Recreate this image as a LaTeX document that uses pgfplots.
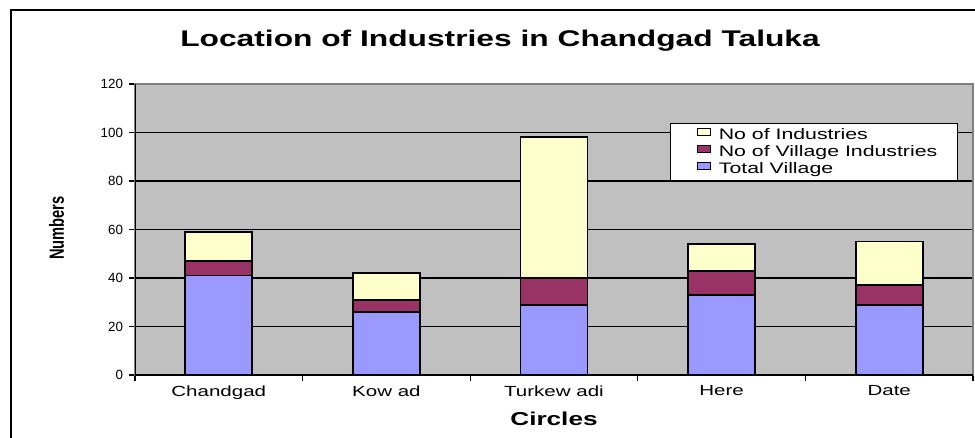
\documentclass[border=0pt]{standalone}
\usepackage{graphicx}
\usepackage{pgfplots}
\pgfplotsset{compat=1.18}
\usepackage{fontspec}
\setmainfont{Liberation Sans}
\newfontfamily\wide[FakeStretch=1.4]{Liberation Sans}
\definecolor{plotgray}{HTML}{C0C0C0}
\definecolor{tvblue}{HTML}{9999FF}
\definecolor{vired}{HTML}{993366}
\definecolor{inyellow}{HTML}{FFFFCC}
\begin{document}
\begin{tikzpicture}
\useasboundingbox (0,0) rectangle (731.25pt,327.75pt);
\draw[line width=1.5pt] (8.25pt,-2pt) -- (8.25pt,320.25pt) -- (734pt,320.25pt);
\node[font=\wide\bfseries\fontsize{17}{20}\selectfont] at (375pt,297pt) {Location of Industries in Chandgad Taluka};
\begin{axis}[
  at={(101.25pt,46.5pt)}, anchor=south west,
  scale only axis, width=628.5pt, height=218.25pt,
  ybar stacked, bar width=50.25pt,
  xmin=-0.5, xmax=4.5, ymin=0, ymax=120,
  xtick={0,...,4},
  xticklabels={Chandgad,Kow ad,Turkew adi,Here,Date},
  major x tick style={draw=none},
  minor xtick={-0.5,0.5,...,4.5},
  minor x tick style={black, line width=0.8pt},
  ytick={0,20,...,120},
  major y tick style={black, line width=0.8pt},
  tick align=outside, tick pos=left,
  major tick length=4.5pt, minor tick length=4.5pt,
  ymajorgrids, grid style={black, line width=0.9pt},
  axis background/.style={fill=plotgray},
  axis line style={draw=gray, line width=1pt},
  /pgf/number format/assume math mode=true,
  yticklabel style={font=\fontsize{10}{12}\selectfont, xshift=-1pt},
  xticklabel style={font=\wide\fontsize{11}{13}\selectfont},
  ylabel={\scalebox{1.4}[1]{\rotatebox{90}{\bfseries\fontsize{11}{13}\selectfont Numbers}}},
  ylabel style={at={(rel axis cs:-0.0935,0.505)}, anchor=center, rotate=-90},
  xlabel={Circles},
  xlabel style={font=\wide\bfseries\fontsize{14}{16}\selectfont, at={(rel axis cs:0.5,-0.151)}, anchor=center},
  reverse legend,
  legend style={at={(0.982,0.866)}, anchor=north east, draw=black, line width=0.9pt, fill=white,
    font=\wide\fontsize{11.4}{13}\selectfont, row sep=1.5pt, inner xsep=15pt, inner ysep=3pt,
    nodes={inner sep=0pt, text height=8pt, text depth=2.5pt}, column sep=6pt},
  legend cell align=left,
  legend image code/.code={\path (-4.5pt,0pt); \draw[#1, draw=black, line width=0.5pt] (0pt,0.4pt) rectangle (9.75pt,5.8pt);},
]
\addplot[fill=tvblue, draw=black, line width=1.3pt] coordinates {(0,41) (1,26) (2,29) (3,33) (4,29)};
\addplot[fill=vired, draw=black, line width=1.3pt] coordinates {(0,6) (1,5) (2,11) (3,10) (4,8)};
\addplot[fill=inyellow, draw=black, line width=1.3pt] coordinates {(0,12) (1,11) (2,58) (3,11) (4,18)};
\legend{Total Village, No of Village Industries, No of Industries}
\draw[black, line width=1pt] (rel axis cs:0,1) -- (rel axis cs:0,0) -- (rel axis cs:1,0);
\end{axis}
\end{tikzpicture}
\end{document}
